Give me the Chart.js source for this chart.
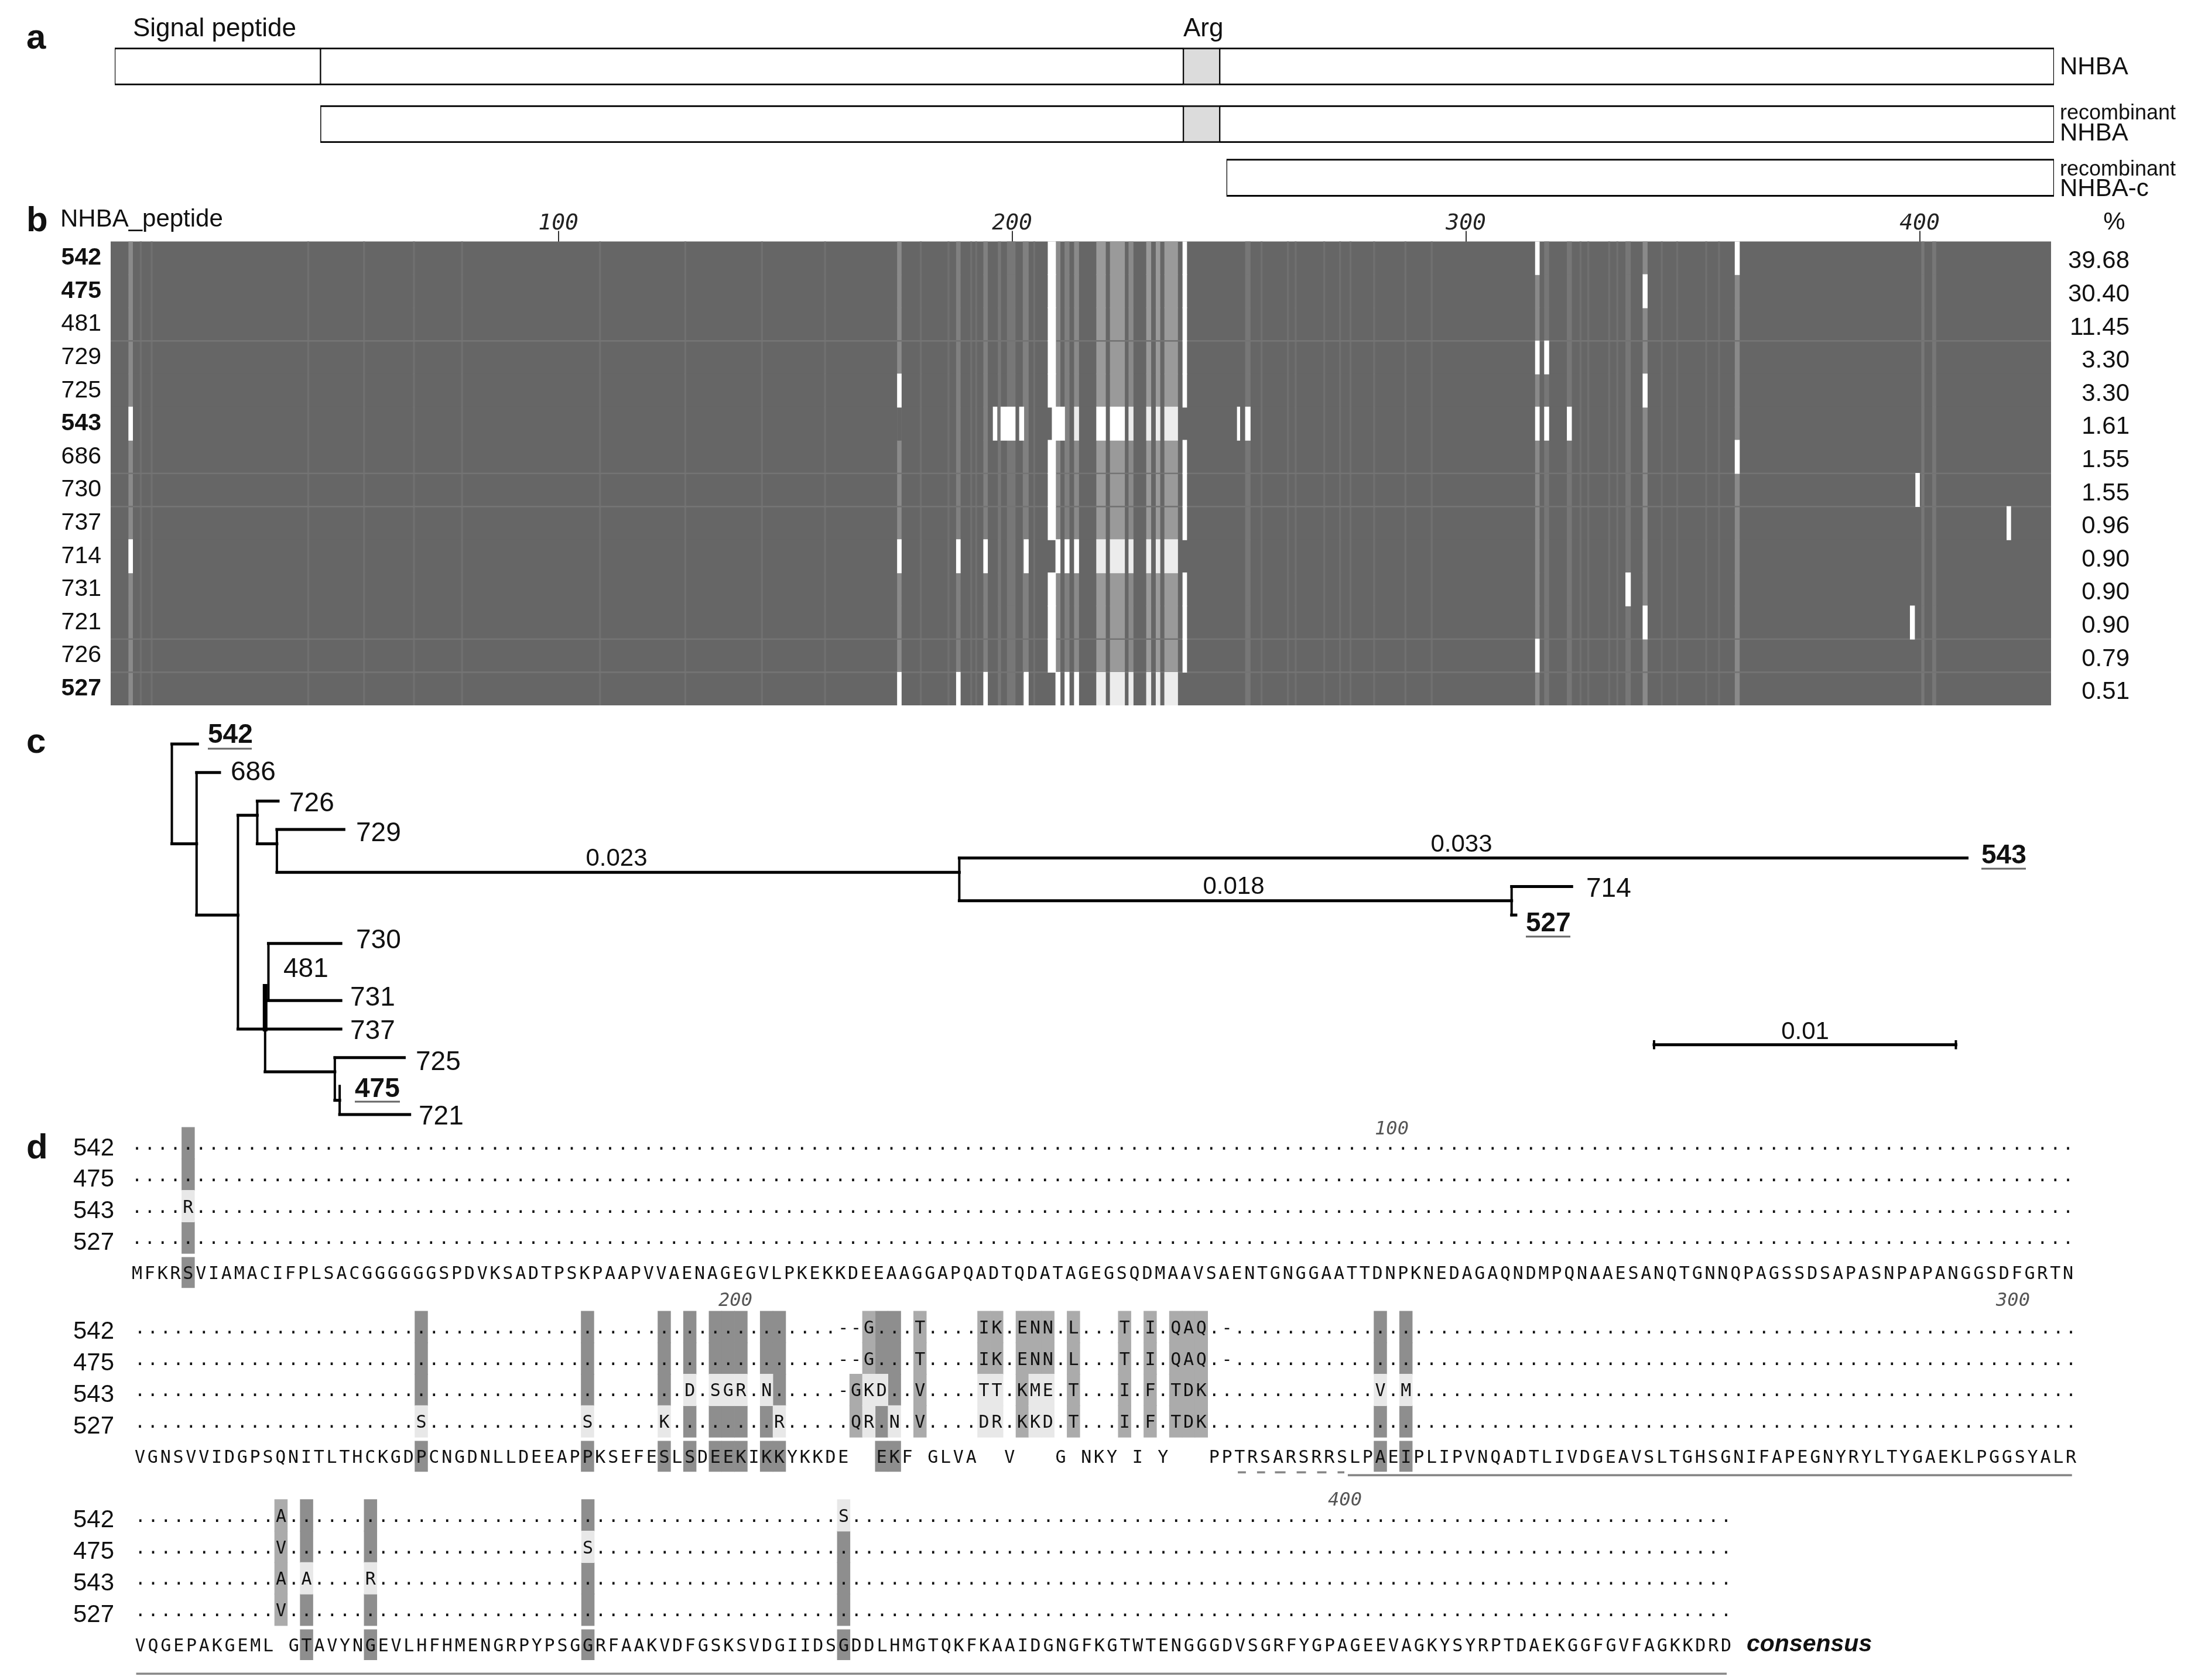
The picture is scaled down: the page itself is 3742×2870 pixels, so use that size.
<!DOCTYPE html>
<html>
<head>
<meta charset="utf-8">
<title>NHBA peptide variants</title>
<script src="https://cdn.jsdelivr.net/npm/chart.js@4/dist/chart.umd.min.js"></script>
<style>
  html, body { margin: 0; background: #fff; overflow: hidden; }
  canvas { position: absolute; left: 0; top: 0; }
</style>
</head>
<body>
<canvas id="panelA" width="3742" height="2870"></canvas>
<canvas id="panelB" width="3742" height="2870"></canvas>
<canvas id="panelC" width="3742" height="2870"></canvas>
<canvas id="panelD" width="3742" height="2870"></canvas>
<script>
// ---------- panel a: protein constructs (residue numbers) ----------
const constructRows = [0, 1, 1.93];
const plainRegions = [[0, 0, 45.3], [0, 45.3, 235.3], [0, 243.3, 427], [1, 45.3, 235.3], [1, 243.3, 427], [2, 244.8, 427]];
const argRegions = [[0, 235.3, 243.3], [1, 235.3, 243.3]];

// ---------- panel b: peptide variants by alignment position ----------
const isolates = ['542', '475', '481', '729', '725', '543', '686', '730', '737', '714', '731', '721', '726', '527'];
const abundance = [39.68, 30.40, 11.45, 3.30, 3.30, 1.61, 1.55, 1.55, 0.96, 0.90, 0.90, 0.90, 0.79, 0.51];
const boldIsolates = ['542', '475', '543', '527'];
const rulerTicks = [100, 200, 300, 400];
const rowDividers = [2.5, 6.5, 7.5, 11.5, 12.5];
const faintColumns = [7.8, 10.2, 44.7, 57, 68, 78.6, 109, 127.8, 144.7, 158.6, 179.7, 185.8, 190.8, 191.9, 204.7, 254.8, 260.6, 262.3, 268.6, 272.1, 274.4, 279.6, 286.5, 292.3, 325.1, 326.8, 331.4, 333.2, 343, 346.4, 352.8, 355.6];
const softStripes = [[196.9, 197.5], [198.9, 200.7], [251.4, 252.5], [317.3, 318.3], [322.3, 323.3], [335.2, 336.3], [400.4, 401], [402.8, 403.6]];
const mediumStripes = [[187.7, 188.6], [193.7, 194.6], [202.4, 203.6], [211.6, 212.6]];
const strongStripes = [[5.3, 6.2], [174.7, 175.6], [209.6, 210.6], [213.7, 214.7], [225.7, 226.7], [315.3, 316.2], [339, 340], [359.3, 360.3]];
const hotStripes = [[218.6, 220.6], [221.6, 224.8], [229.6, 230.6], [231.7, 232.6], [233.6, 236.5]];
const gapColumns = [[207.9, 209.6], [237.6, 238.5]];
const gapRows = [0, 1, 2, 3, 4, 6, 7, 8, 10, 11, 12];
// [row, start, end]
const whiteCells = [
  [0, 315.3, 316.2], [0, 359.3, 360.3], [1, 339, 340], [3, 315.3, 316.2], [3, 317.3, 318.3],
  [4, 174.7, 175.6], [4, 339, 340], [6, 359.3, 360.3], [7, 399.1, 400], [8, 419.2, 420.1],
  [10, 335.2, 336.3], [11, 339, 340], [11, 397.9, 398.9], [12, 315.3, 316.2],
  [5, 5.3, 6.2], [5, 195.8, 196.7], [5, 197.5, 200.7], [5, 201.6, 202.6], [5, 208.8, 211.6],
  [5, 218.6, 220.6], [5, 221.6, 224.8], [5, 249.6, 250.2], [5, 251.4, 252.5], [5, 315.3, 316.2],
  [5, 317.3, 318.3], [5, 322.3, 323.3], [9, 5.3, 6.2]
];
const paleCells = [
  [5, 213.7, 214.7], [5, 225.7, 226.7], [5, 229.6, 230.6], [5, 231.7, 232.6], [5, 233.6, 236.5]
];
const darkCells = [[5, 174.7, 175.6]];
// columns where 714 and 527 both differ
const sharedRows = [9, 13];
const sharedWhite = [[174.7, 175.6], [187.7, 188.6], [193.7, 194.6], [202.6, 203.6], [209.6, 210.6], [211.6, 212.6], [213.7, 214.7]];
const sharedPale = [[218.6, 220.6], [221.6, 224.8], [225.7, 226.7], [229.6, 230.6], [231.7, 232.6], [233.6, 236.5]];

// ---------- panel c: tree (substitutions per site, leaf order) ----------
const branches = [
  [0, 0.00085, 0], [0.00082, 0.00158, 1], [0, 0.00082, 3.5], [0.00082, 0.00219, 6],
  [0.00219, 0.00283, 2.5], [0.00283, 0.00352, 2], [0.00283, 0.00348, 3.5], [0.00348, 0.0057, 3],
  [0.00348, 0.02609, 4.5], [0.02609, 0.05948, 4], [0.02609, 0.04439, 5.5], [0.04439, 0.04638, 5],
  [0.04439, 0.04453, 6], [0.0032, 0.0056, 7], [0.0031, 0.0056, 9], [0.00219, 0.0056, 10],
  [0.00309, 0.0054, 11.5], [0.0054, 0.0077, 11], [0.0054, 0.00556, 12.5], [0.00556, 0.00788, 13]
];
const joins = [
  [0, 0, 3.5], [0.00082, 1, 6], [0.00219, 2.5, 10], [0.00283, 2, 3.5], [0.00348, 3, 4.5],
  [0.02609, 4, 5.5], [0.04439, 5, 6], [0.0032, 7, 9], [0.00309, 10, 11.5], [0.0054, 11, 12.5], [0.00556, 12, 13]
];
const thickJoins = [[0.00309, 8.5, 10]];
const scaleBar = [0.04911, 0.05911, 10.55];
const scaleCap = 0.12;

// ---------- panel d: alignment ----------
const alignedIsolates = ['542', '475', '543', '527'];
const consensus = [
  'MFKRSVIAMACIFPLSACGGGGGGSPDVKSADTPSKPAAPVVAENAGEGVLPKEKKDEEAAGGAPQADTQDATAGEGSQDMAAVSAENTGNGGAATTDNPKNEDAGAQNDMPQNAAESANQTGNNQPAGSSDSAPASNPAPANGGSDFGRTN',
  'VGNSVVIDGPSQNITLTHCKGDPCNGDNLLDEEAPPKSEFESLSDEEKIKKYKKDE  EKF GLVA  V   G NKY I Y   PPTRSARSRRSLPAEIPLIPVNQADTLIVDGEAVSLTGHSGNIFAPEGNYRYLTYGAEKLPGGSYALR',
  'VQGEPAKGEML GTAVYNGEVLHFHMENGRPYPSGGRFAAKVDFGSKSVDGIIDSGDDLHMGTQKFKAAIDGNGFKGTWTENGGGDVSGRFYGPAGEEVAGKYSYRPTDAEKGGFGVFAGKKDRD'
];
// [first column, residues] per block and isolate, everything else is a dot
const block1Subs = [[], [], [[4, 'R']], []];
const block2Subs = [
  [[55, '--G'], [61, 'T'], [66, 'IK'], [69, 'ENN'], [73, 'L'], [77, 'T'], [79, 'I'], [81, 'QAQ'], [85, '-']],
  [[55, '--G'], [61, 'T'], [66, 'IK'], [69, 'ENN'], [73, 'L'], [77, 'T'], [79, 'I'], [81, 'QAQ'], [85, '-']],
  [[43, 'D'], [45, 'SGR'], [49, 'N'], [55, '-GKD'], [61, 'V'], [66, 'TT'], [69, 'KME'], [73, 'T'], [77, 'I'], [79, 'F'], [81, 'TDK'], [97, 'V'], [99, 'M']],
  [[22, 'S'], [35, 'S'], [41, 'K'], [50, 'R'], [56, 'QR'], [59, 'N'], [61, 'V'], [66, 'DR'], [69, 'KKD'], [73, 'T'], [77, 'I'], [79, 'F'], [81, 'TDK']]
];
const block3Subs = [[[11, 'A'], [55, 'S']], [[11, 'V'], [35, 'S']], [[11, 'A'], [13, 'A'], [18, 'R']], [[11, 'V']]];
// [block, column, rows] with row 4 being the consensus line
const darkAligned = [
  [0, 4, '0134'], [1, 22, '0124'], [1, 35, '0124'], [1, 41, '0124'], [1, 43, '0134'], [1, 45, '0134'], [1, 46, '0134'],
  [1, 47, '0134'], [1, 49, '0134'], [1, 50, '0124'], [1, 58, '0134'], [1, 59, '0124'], [1, 97, '0134'], [1, 99, '0134'],
  [2, 13, '0134'], [2, 18, '0134'], [2, 35, '0234'], [2, 55, '1234']
];
const midAligned = [
  [1, 56, '23'], [1, 57, '01'], [1, 61, '0123'], [1, 66, '01'], [1, 67, '01'], [1, 69, '0123'], [1, 70, '01'], [1, 71, '01'],
  [1, 73, '0123'], [1, 77, '0123'], [1, 79, '0123'], [1, 81, '0123'], [1, 82, '0123'], [1, 83, '0123'], [2, 11, '0123']
];
const lightAligned = [
  [0, 4, '2'], [1, 22, '3'], [1, 35, '3'], [1, 41, '3'], [1, 43, '2'], [1, 45, '2'], [1, 46, '2'], [1, 47, '2'], [1, 49, '2'],
  [1, 50, '3'], [1, 57, '23'], [1, 58, '2'], [1, 59, '3'], [1, 66, '23'], [1, 67, '23'], [1, 70, '23'], [1, 71, '23'],
  [1, 97, '2'], [1, 99, '2'], [2, 13, '2'], [2, 18, '2'], [2, 35, '1'], [2, 55, '0']
];
const dashedSpan = [[86.1, 86.7], [87.6, 88.2], [89, 89.8], [90.7, 91.4], [92.3, 93], [93.9, 94.4]];
const solidSpans = [[94.7, 151.3, 10.55], [-0.05, 124.3, 16.86]];

// ---------- layout ----------
const SANS = '"Liberation Sans", Arial, sans-serif';
const MONO = '"DejaVu Sans Mono", monospace';
const W = 3742, H = 2870;
const blockTop = [0, 5.84, 11.83];
const blockShift = [0, 0.23, 0.26];
const consensusLine = 4.11;
const ROW_B = 56.7;
const LINE_D = 53.75;
const COL_D = 21.84;

Chart.defaults.animation = false;
Chart.defaults.responsive = false;
Chart.defaults.devicePixelRatio = 1;
Chart.defaults.plugins.legend.display = false;
Chart.defaults.plugins.tooltip.enabled = false;

function put(ctx, text, x, y, size, opts = {}) {
  ctx.font = `${opts.style || 'normal'} ${opts.weight || 'normal'} ${size}px ${opts.family || SANS}`;
  ctx.fillStyle = opts.color || '#111';
  ctx.textAlign = opts.align || 'left';
  ctx.textBaseline = opts.baseline || 'middle';
  ctx.fillText(text, x, y);
}

function underline(ctx, x0, x1, y) {
  ctx.strokeStyle = '#666';
  ctx.lineWidth = 3;
  ctx.beginPath();
  ctx.moveTo(x0, y);
  ctx.lineTo(x1, y);
  ctx.stroke();
}

function textLayer(id, draw) {
  return {
    id,
    afterDraw(chart) {
      chart.ctx.save();
      draw(chart.ctx, chart);
      chart.ctx.restore();
    }
  };
}

function barSet(data, color, thickness, order, extra = {}) {
  return Object.assign({
    data, backgroundColor: color, barThickness: thickness, order,
    grouped: false, borderWidth: 0, borderSkipped: false
  }, extra);
}

function hiddenScale(min, max, reverse = false) {
  return { type: 'linear', display: false, min, max, reverse, offset: false };
}

// panel a
const boxEdge = { top: 3, bottom: 3, left: 1.5, right: 1.5 };
new Chart(document.getElementById('panelA'), {
  type: 'bar',
  data: {
    datasets: [
      barSet(plainRegions.map(r => ({ y: constructRows[r[0]], x: [r[1], r[2]] })), '#ffffff', 64, 2, { borderWidth: boxEdge, borderColor: '#000' }),
      barSet(argRegions.map(r => ({ y: constructRows[r[0]], x: [r[1], r[2]] })), '#dcdcdc', 64, 1, { borderWidth: boxEdge, borderColor: '#111' })
    ]
  },
  options: {
    indexAxis: 'y',
    layout: { padding: { left: 196, right: W - 3508, top: 64.25, bottom: H - 353.2 } },
    scales: { x: hiddenScale(0, 427), y: hiddenScale(-0.5, 2.434, true) }
  },
  plugins: [textLayer('panelAText', ctx => {
    put(ctx, 'a', 45, 66, 60, { weight: 'bold' });
    put(ctx, 'Signal peptide', 227, 50, 44);
    put(ctx, 'Arg', 2021, 50, 44);
    put(ctx, 'NHBA', 3518, 115, 42);
    put(ctx, 'recombinant', 3518, 194, 36);
    put(ctx, 'NHBA', 3518, 228, 42);
    put(ctx, 'recombinant', 3518, 290, 36);
    put(ctx, 'NHBA-c', 3518, 323, 42);
  })]
});

// panel b
const rowSpan = (rows, spans) => rows.flatMap(r => spans.map(s => ({ y: r, x: [s[0], s[1]] })));
const allRows = isolates.map((_, i) => i);
const cellBars = cells => cells.map(c => ({ y: c[0], x: [c[1], c[2]] }));
const xMinB = 1.34, xMaxB = 428.96;

new Chart(document.getElementById('panelB'), {
  type: 'bar',
  data: {
    datasets: [
      barSet(rowSpan(allRows, [[xMinB, xMaxB]]), '#666666', ROW_B + 0.6, 9),
      barSet(rowSpan(allRows, faintColumns.map(c => [c, c + 0.35])), '#707070', ROW_B + 0.6, 8),
      barSet(rowSpan(allRows, softStripes), '#777777', ROW_B + 0.6, 7),
      barSet(rowSpan(allRows, mediumStripes), '#808080', ROW_B + 0.6, 7),
      barSet(rowSpan(allRows, strongStripes), '#8a8a8a', ROW_B + 0.6, 7),
      barSet(rowSpan(allRows, hotStripes), '#9a9a9a', ROW_B + 0.6, 7),
      barSet(rowDividers.map(y => ({ y, x: [xMinB, xMaxB] })), '#747474', 2, 6),
      barSet(cellBars(darkCells), '#666666', ROW_B + 0.6, 5),
      barSet(rowSpan(gapRows, gapColumns), '#ffffff', ROW_B + 0.6, 4),
      barSet(rowSpan(sharedRows, sharedPale), '#ececec', ROW_B + 0.6, 3),
      barSet(rowSpan(sharedRows, sharedWhite), '#ffffff', ROW_B + 0.6, 3),
      barSet(cellBars(paleCells), '#ececec', ROW_B + 0.6, 2),
      barSet(cellBars(whiteCells), '#ffffff', ROW_B + 0.6, 1)
    ]
  },
  options: {
    indexAxis: 'y',
    layout: { padding: { left: 89, right: W - 3637, top: 352.5, bottom: H - 1205 } },
    scales: {
      x: {
        type: 'linear', position: 'top', min: xMinB, max: xMaxB, offset: false,
        afterBuildTicks: axis => { axis.ticks = rulerTicks.map(value => ({ value })); },
        afterFit: axis => { axis.height = 60; },
        grid: { drawOnChartArea: false, drawTicks: true, tickLength: 18, tickColor: '#333', lineWidth: 2, offset: false },
        border: { display: false },
        ticks: { font: { family: MONO, size: 38, style: 'italic' }, color: '#222', padding: -10, maxRotation: 0, autoSkip: false }
      },
      y: {
        type: 'linear', position: 'left', min: -0.5, max: 13.5, reverse: true, offset: false,
        afterBuildTicks: axis => { axis.ticks = allRows.map(value => ({ value })); },
        afterFit: axis => { axis.width = 100; },
        grid: { display: false },
        border: { display: false },
        ticks: {
          autoSkip: false, padding: 8, color: '#111',
          callback: v => isolates[v],
          font: c => ({ family: SANS, size: 41, weight: c.tick && boldIsolates.includes(isolates[c.tick.value]) ? 'bold' : 'normal' })
        }
      },
      y2: {
        type: 'linear', axis: 'y', position: 'right', min: -0.606, max: 13.394, reverse: true, offset: false,
        afterBuildTicks: axis => { axis.ticks = allRows.map(value => ({ value })); },
        afterFit: axis => { axis.width = 134; },
        grid: { display: false },
        border: { display: false },
        ticks: {
          autoSkip: false, padding: 0, color: '#111', crossAlign: 'far',
          callback: v => abundance[v].toFixed(2),
          font: { family: SANS, size: 42 }
        }
      }
    }
  },
  plugins: [textLayer('panelBText', ctx => {
    put(ctx, 'b', 45, 378, 60, { weight: 'bold' });
    put(ctx, 'NHBA_peptide', 103, 375, 42);
    put(ctx, '%', 3611, 380, 42, { align: 'center' });
  })]
});

// panel c
const segment = (x0, y0, x1, y1, width) => ({
  data: [{ x: x0, y: y0 }, { x: x1, y: y1 }],
  showLine: true, borderColor: '#000', borderWidth: width, pointRadius: 0, borderCapStyle: 'square'
});

new Chart(document.getElementById('panelC'), {
  type: 'scatter',
  data: {
    datasets: [
      ...branches.map(b => segment(b[0], b[2], b[1], b[2], 5)),
      ...joins.map(j => segment(j[0], j[1], j[0], j[2], 4)),
      ...thickJoins.map(j => segment(j[0], j[1], j[0], j[2], 8)),
      segment(scaleBar[0], scaleBar[2], scaleBar[1], scaleBar[2], 5),
      segment(scaleBar[0], scaleBar[2] - scaleCap, scaleBar[0], scaleBar[2] + scaleCap, 4),
      segment(scaleBar[1], scaleBar[2] - scaleCap, scaleBar[1], scaleBar[2] + scaleCap, 4)
    ]
  },
  options: {
    layout: { padding: { top: 1222, bottom: H - 1962 } },
    scales: { x: hiddenScale(-0.005694, 0.0669), y: hiddenScale(-1.006, 14.19, true) }
  },
  plugins: [textLayer('panelCText', ctx => {
    put(ctx, 'c', 45, 1269, 60, { weight: 'bold' });
    put(ctx, '542', 355, 1256, 46, { weight: 'bold' });
    underline(ctx, 355, 430, 1279);
    put(ctx, '686', 394, 1320, 46);
    put(ctx, '726', 494, 1373, 46);
    put(ctx, '729', 608, 1424, 46);
    put(ctx, '730', 608, 1607, 46);
    put(ctx, '481', 484, 1656, 46);
    put(ctx, '731', 598, 1705, 46);
    put(ctx, '737', 598, 1762, 46);
    put(ctx, '725', 710, 1815, 46);
    put(ctx, '475', 606, 1861, 46, { weight: 'bold' });
    underline(ctx, 606, 683, 1882);
    put(ctx, '721', 715, 1908, 46);
    put(ctx, '0.023', 1053, 1467, 42, { align: 'center' });
    put(ctx, '0.033', 2496, 1443, 42, { align: 'center' });
    put(ctx, '0.018', 2107, 1515, 42, { align: 'center' });
    put(ctx, '543', 3384, 1462, 46, { weight: 'bold' });
    underline(ctx, 3384, 3460, 1484);
    put(ctx, '714', 2709, 1519, 46);
    put(ctx, '527', 2606, 1578, 46, { weight: 'bold' });
    underline(ctx, 2606, 2682, 1600);
    put(ctx, '0.01', 3083, 1763, 42, { align: 'center' });
  })]
});

// panel d
const blockSubs = [block1Subs, block2Subs, block3Subs];
const alignedCells = (list, onConsensus) => list.flatMap(([block, col, rows]) =>
  rows.split('')
    .filter(r => (r === '4') === onConsensus)
    .map(r => ({
      y: blockTop[block] + (r === '4' ? consensusLine : Number(r)),
      x: [col + blockShift[block] - 0.5, col + blockShift[block] + 0.5]
    })));

function dotRow(length, subs) {
  const chars = '.'.repeat(length).split('');
  subs.forEach(([start, letters]) => {
    letters.split('').forEach((ch, i) => { chars[start + i] = ch; });
  });
  return chars.join('');
}

function monoRow(ctx, chart, text, block, line) {
  const size = 30;
  const x = chart.scales.x.getPixelForValue(blockShift[block]) - 0.301 * size;
  const y = chart.scales.y.getPixelForValue(blockTop[block] + line) + 11;
  ctx.letterSpacing = (COL_D - 0.602 * size).toFixed(2) + 'px';
  put(ctx, text, x, y, size, { family: MONO, baseline: 'alphabetic', color: '#111' });
  ctx.letterSpacing = '0px';
}

new Chart(document.getElementById('panelD'), {
  type: 'bar',
  data: {
    datasets: [
      barSet(alignedCells(darkAligned, false), '#8e8e8e', LINE_D + 0.6, 3),
      barSet(alignedCells(darkAligned, true), '#8e8e8e', 52, 3),
      barSet(alignedCells(midAligned, false), '#ababab', LINE_D + 0.6, 2),
      barSet(alignedCells(lightAligned, false), '#e8e8e8', LINE_D + 0.6, 1),
      barSet(dashedSpan.map(s => ({ y: 10.46, x: s })), '#888888', 3, 1),
      barSet(solidSpans.map(s => ({ y: s[2], x: [s[0], s[1]] })), '#888888', 3, 1)
    ]
  },
  options: {
    indexAxis: 'y',
    layout: { padding: { top: 1905, bottom: 0 } },
    scales: {
      x: hiddenScale(-234 / COL_D, (W - 234) / COL_D),
      y: hiddenScale((1905 - 1953) / LINE_D, (H - 1953) / LINE_D, true)
    }
  },
  plugins: [textLayer('panelDText', (ctx, chart) => {
    put(ctx, 'd', 45, 1962, 60, { weight: 'bold' });
    consensus.forEach((seq, block) => {
      alignedIsolates.forEach((name, row) => {
        const y = chart.scales.y.getPixelForValue(blockTop[block] + row) + 9;
        put(ctx, name, 195, y, 42, { align: 'right' });
        monoRow(ctx, chart, dotRow(seq.length, blockSubs[block][row]), block, row);
      });
      monoRow(ctx, chart, seq, block, consensusLine);
    });
    put(ctx, '100', 2377, 1930, 32, { family: MONO, style: 'italic', color: '#555', align: 'center' });
    put(ctx, '200', 1256, 2223, 32, { family: MONO, style: 'italic', color: '#555', align: 'center' });
    put(ctx, '300', 3438, 2223, 32, { family: MONO, style: 'italic', color: '#555', align: 'center' });
    put(ctx, '400', 2297, 2564, 32, { family: MONO, style: 'italic', color: '#555', align: 'center' });
    put(ctx, 'consensus', 2983, 2810, 41, { weight: 'bold', style: 'italic' });
  })]
});
</script>
</body>
</html>
